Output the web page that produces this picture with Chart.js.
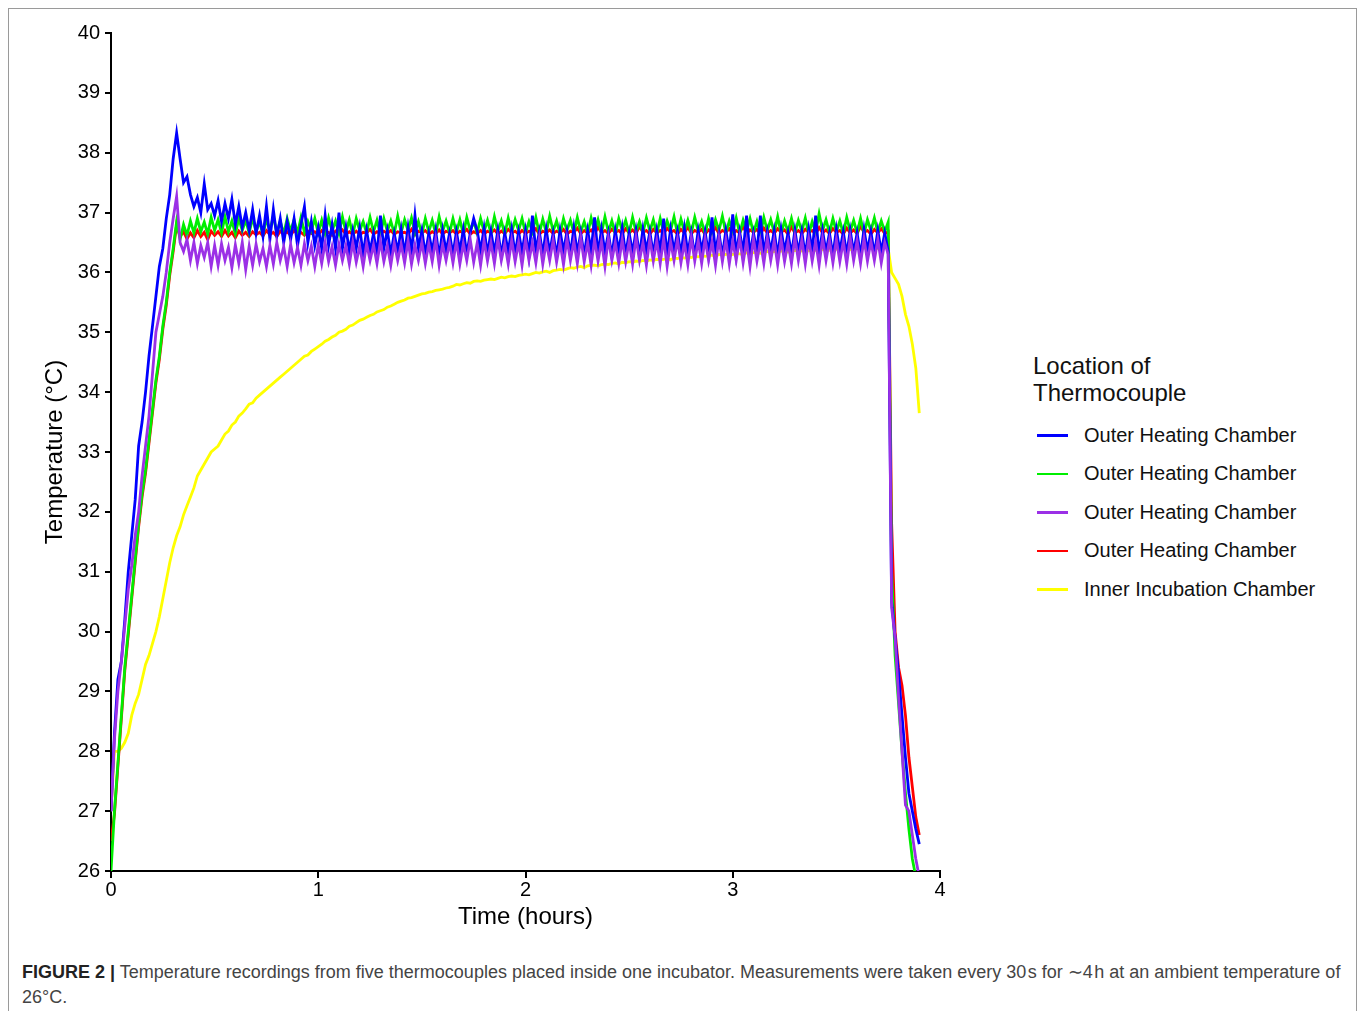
<!DOCTYPE html>
<html>
<head>
<meta charset="utf-8">
<script src="https://cdn.jsdelivr.net/npm/chart.js@4.4.1/dist/chart.umd.min.js"></script>
<style>
  html, body { margin: 0; padding: 0; background: #fff; }
  body { width: 1358px; height: 1011px; position: relative; overflow: hidden; font-family: "Liberation Sans", Arial, sans-serif; }
  .frame { position: absolute; left: 8px; top: 8px; width: 1347px; height: 1100px; border: 1px solid #9a9a9a; }
  #chartWrap { position: absolute; left: 0; top: 0; width: 980px; height: 940px; }
  .legend { position: absolute; left: 1033px; top: 352px; color: #111; }
  .legend-title { font-size: 24px; line-height: 27px; margin-bottom: 10px; }
  .legend-item { height: 38.5px; display: flex; align-items: center; font-size: 20px; }
  .legend-item span.swatch { display: inline-block; width: 31px; height: 2.5px; margin: 0 16px 0 4px; }
  .caption { position: absolute; left: 22px; top: 960px; font-size: 18px; line-height: 25px; color: #444; white-space: nowrap; }
  .caption b { color: #222; }
</style>
</head>
<body>
<div class="frame"></div>
<div id="chartWrap"><canvas id="tempChart" width="980" height="940"></canvas></div>
<div class="legend" id="legend"></div>
<div class="caption"><b>FIGURE 2 |</b> Temperature recordings from five thermocouples placed inside one incubator. Measurements were taken every 30&#8202;s for ∼4&#8202;h at an ambient temperature of<br>26°C.</div>
<script>
// one plotted reading per minute (°C)
const minutesPerSample = 1;

const blueTemps = [
    27.0, 28.3, 29.2, 29.5, 30.2, 31.0, 31.6, 32.2, 33.1, 33.5,
    34.0, 34.6, 35.1, 35.6, 36.1, 36.4, 36.9, 37.3, 37.9, 38.33,
    37.9, 37.5, 37.6, 37.3, 37.1, 37.25, 37.0, 37.48, 37.05, 37.15,
    36.95, 37.2, 36.85, 37.15, 36.9, 37.22, 36.8, 37.1, 36.75, 37.0,
    36.7, 37.05, 36.65, 36.95, 36.6, 37.1, 36.55, 37.05, 36.6, 36.9,
    36.5, 36.85, 36.55, 36.9, 36.45, 36.8, 37.1, 36.5, 36.85, 36.45,
    36.75, 36.4, 36.95, 36.45, 36.8, 36.4, 37.0, 36.4, 36.75, 36.35,
    36.7, 36.4, 36.75, 36.3, 36.7, 36.35, 36.65, 36.3, 36.95, 36.4,
    36.7, 36.3, 36.65, 36.35, 36.72, 36.3, 36.75, 36.35, 36.95, 36.4,
    36.7, 36.3, 36.65, 36.35, 36.7, 36.25, 36.7, 36.35, 36.65, 36.3,
    36.68, 36.35, 36.72, 36.3, 36.66, 36.9, 36.7, 36.36, 36.74, 36.3,
    36.68, 36.33, 36.7, 36.27, 36.66, 36.35, 36.72, 36.3, 36.68, 36.34,
    36.7, 36.28, 36.95, 36.35, 36.68, 36.3, 36.72, 36.33, 36.66, 36.27,
    36.7, 36.35, 36.68, 36.3, 36.74, 36.32, 36.66, 36.28, 36.7, 36.36,
    36.92, 36.3, 36.72, 36.34, 36.66, 36.27, 36.7, 36.35, 36.74, 36.3,
    36.66, 36.33, 36.7, 36.28, 36.72, 36.36, 36.68, 36.3, 36.7, 36.34,
    36.9, 36.28, 36.72, 36.35, 36.68, 36.3, 36.74, 36.32, 36.66, 36.28,
    36.7, 36.36, 36.68, 36.3, 36.92, 36.34, 36.66, 36.27, 36.7, 36.35,
    36.97, 36.3, 36.68, 36.33, 36.95, 36.28, 36.66, 36.35, 36.95, 36.3,
    36.68, 36.34, 36.7, 36.27, 36.72, 36.35, 36.66, 36.3, 36.7, 36.33,
    36.68, 36.28, 36.72, 36.36, 36.95, 36.3, 36.7, 36.34, 36.66, 36.28,
    36.72, 36.35, 36.68, 36.3, 36.7, 36.33, 36.66, 36.28, 36.72, 36.36,
    36.68, 36.3, 36.7, 36.34, 36.66, 36.35,
    30.5, 29.9, 29.3, 28.6, 27.9, 27.3, 27.0, 26.7, 26.45
];

const greenTemps = [
    26.0, 27.0, 27.8, 28.6, 29.4, 30.0, 30.6, 31.2, 31.8, 32.3,
    32.7, 33.2, 33.7, 34.2, 34.6, 35.1, 35.5, 36.0, 36.4, 36.85,
    36.55, 36.8, 36.62, 36.86, 36.66, 36.9, 36.68, 36.84, 36.64, 36.92,
    36.7, 36.88, 36.66, 36.93, 36.68, 36.86, 36.64, 36.9, 36.7, 36.87,
    36.66, 36.91, 36.68, 36.85, 36.63, 36.89, 36.7, 36.94, 36.66, 36.86,
    36.64, 36.9, 36.69, 36.88, 36.65, 36.92, 36.67, 36.85, 36.7, 36.9,
    36.66, 36.87, 36.64, 36.91, 36.69, 36.86, 36.65, 36.93, 36.68, 36.88,
    36.63, 36.9, 36.7, 36.85, 36.66, 36.92, 36.68, 36.87, 36.64, 36.9,
    36.69, 36.86, 36.65, 36.94, 36.67, 36.88, 36.7, 36.91, 36.66, 36.85,
    36.64, 36.9, 36.68, 36.87, 36.65, 36.93, 36.69, 36.86, 36.66, 36.9,
    36.67, 36.88, 36.64, 36.92, 36.7, 36.85, 36.66, 36.9, 36.68, 36.87,
    36.65, 36.93, 36.69, 36.86, 36.64, 36.91, 36.67, 36.88, 36.7, 36.9,
    36.66, 36.85, 36.68, 36.92, 36.65, 36.89, 36.67, 36.94, 36.69, 36.86,
    36.64, 36.9, 36.7, 36.87, 36.66, 36.92, 36.68, 36.85, 36.65, 36.91,
    36.69, 36.88, 36.66, 36.93, 36.67, 36.86, 36.64, 36.9, 36.7, 36.87,
    36.65, 36.92, 36.68, 36.85, 36.66, 36.91, 36.69, 36.88, 36.64, 36.9,
    36.67, 36.86, 36.7, 36.93, 36.65, 36.89, 36.68, 36.87, 36.66, 36.92,
    36.69, 36.85, 36.64, 36.9, 36.67, 36.88, 36.7, 36.94, 36.66, 36.86,
    36.68, 36.91, 36.65, 36.87, 36.69, 36.9, 36.66, 36.85, 36.64, 36.92,
    36.7, 36.88, 36.67, 36.93, 36.65, 36.86, 36.68, 36.9, 36.66, 36.87,
    36.69, 36.91, 36.64, 36.85, 36.67, 36.98, 36.7, 36.88, 36.66, 36.9,
    36.68, 36.86, 36.65, 36.92, 36.69, 36.87, 36.66, 36.9, 36.64, 36.88,
    36.7, 36.91, 36.67, 36.86, 36.68, 36.84,
    31.0, 29.6, 28.8, 28.0, 27.3, 26.7, 26.2, 25.9
];

const purpleTemps = [
    27.0, 28.2, 29.0, 29.5, 30.1, 30.7, 31.1, 31.6, 32.0, 32.6,
    33.1, 33.6, 34.3, 35.0, 35.3, 35.6, 36.0, 36.5, 36.9, 37.27,
    36.5, 36.35, 36.55, 36.2, 36.5, 36.15, 36.45, 36.25, 36.5, 36.1,
    36.45, 36.12, 36.48, 36.2, 36.42, 36.08, 36.46, 36.15, 36.5, 36.05,
    36.44, 36.12, 36.47, 36.18, 36.4, 36.1, 36.45, 36.14, 36.5, 36.2,
    36.43, 36.1, 36.47, 36.16, 36.42, 36.12, 36.48, 36.2, 36.44, 36.1,
    36.46, 36.15, 36.5, 36.18, 36.43, 36.12, 36.47, 36.2, 36.45, 36.14,
    36.5, 36.17, 36.44, 36.1, 36.48, 36.2, 36.46, 36.15, 36.52, 36.18,
    36.45, 36.12, 36.49, 36.2, 36.47, 36.16, 36.53, 36.14, 36.46, 36.2,
    36.5, 36.15, 36.48, 36.18, 36.55, 36.12, 36.47, 36.2, 36.5, 36.16,
    36.52, 36.14, 36.48, 36.2, 36.55, 36.17, 36.49, 36.12, 36.53, 36.19,
    36.5, 36.15, 36.56, 36.2, 36.48, 36.14, 36.54, 36.18, 36.5, 36.12,
    36.55, 36.2, 36.49, 36.16, 36.57, 36.14, 36.5, 36.2, 36.54, 36.17,
    36.5, 36.13, 36.56, 36.2, 36.52, 36.15, 36.58, 36.18, 36.5, 36.12,
    36.55, 36.19, 36.52, 36.1, 36.57, 36.2, 36.5, 36.15, 36.55, 36.18,
    36.52, 36.14, 36.58, 36.2, 36.5, 36.12, 36.56, 36.19, 36.53, 36.15,
    36.57, 36.1, 36.52, 36.2, 36.55, 36.16, 36.5, 36.13, 36.58, 36.19,
    36.53, 36.15, 36.56, 36.2, 36.51, 36.12, 36.57, 36.18, 36.54, 36.14,
    36.52, 36.2, 36.58, 36.16, 36.53, 36.1, 36.56, 36.19, 36.52, 36.15,
    36.57, 36.2, 36.53, 36.13, 36.55, 36.18, 36.5, 36.15, 36.58, 36.2,
    36.54, 36.14, 36.56, 36.19, 36.52, 36.12, 36.57, 36.2, 36.54, 36.16,
    36.55, 36.18, 36.52, 36.14, 36.58, 36.2, 36.53, 36.15, 36.56, 36.19,
    36.52, 36.2, 36.55, 36.16, 36.5, 36.3,
    30.4, 29.9, 28.9, 28.0, 27.1, 27.0, 26.6, 26.2, 25.9
];

const redTemps = [
    26.5, 26.95, 27.75, 28.55, 29.35, 29.95, 30.55, 31.15, 31.75, 32.25,
    32.65, 33.15, 33.65, 34.15, 34.55, 35.05, 35.45, 35.95, 36.35, 36.8,
    36.6, 36.68, 36.56, 36.66, 36.58, 36.7, 36.6, 36.67, 36.55, 36.69,
    36.62, 36.68, 36.6, 36.7, 36.61, 36.67, 36.58, 36.69, 36.62, 36.67,
    36.6, 36.68, 36.63, 36.67, 36.61, 36.7, 36.63, 36.67, 36.6, 36.69,
    36.64, 36.68, 36.62, 36.7, 36.64, 36.67, 36.62, 36.69, 36.65, 36.68,
    36.63, 36.7, 36.64, 36.67, 36.62, 36.69, 36.65, 36.71, 36.64, 36.68,
    36.64, 36.69, 36.63, 36.67, 36.66, 36.72, 36.64, 36.68, 36.65, 36.69,
    36.65, 36.7, 36.64, 36.68, 36.66, 36.67, 36.64, 36.72, 36.63, 36.69,
    36.66, 36.7, 36.64, 36.68, 36.65, 36.71, 36.64, 36.69, 36.66, 36.7,
    36.64, 36.69, 36.66, 36.72, 36.64, 36.68, 36.65, 36.7, 36.64, 36.69,
    36.66, 36.71, 36.64, 36.69, 36.65, 36.72, 36.66, 36.69, 36.64, 36.7,
    36.65, 36.69, 36.66, 36.73, 36.64, 36.69, 36.66, 36.71, 36.65, 36.69,
    36.66, 36.72, 36.64, 36.69, 36.67, 36.74, 36.65, 36.7, 36.66, 36.71,
    36.64, 36.76, 36.66, 36.7, 36.65, 36.72, 36.67, 36.7, 36.64, 36.73,
    36.66, 36.71, 36.65, 36.77, 36.67, 36.7, 36.64, 36.72, 36.66, 36.7,
    36.65, 36.74, 36.67, 36.7, 36.64, 36.72, 36.66, 36.76, 36.65, 36.7,
    36.67, 36.72, 36.64, 36.71, 36.66, 36.75, 36.65, 36.7, 36.67, 36.73,
    36.64, 36.7, 36.66, 36.77, 36.65, 36.71, 36.67, 36.72, 36.64, 36.74,
    36.66, 36.7, 36.65, 36.73, 36.67, 36.71, 36.64, 36.76, 36.66, 36.7,
    36.65, 36.72, 36.67, 36.7, 36.64, 36.75, 36.66, 36.71, 36.65, 36.73,
    36.67, 36.7, 36.64, 36.74, 36.66, 36.71, 36.65, 36.77, 36.67, 36.7,
    36.64, 36.72, 36.66, 36.73, 36.65, 36.68,
    31.8, 30.0, 29.4, 29.1, 28.6, 27.9, 27.4, 26.9, 26.6
];

const yellowTemps = [
    27.0, 28.0, 28.0, 28.05, 28.15, 28.3, 28.6, 28.8, 28.95, 29.2,
    29.45, 29.6, 29.8, 30.0, 30.25, 30.55, 30.85, 31.15, 31.4, 31.6,
    31.75, 31.95, 32.1, 32.25, 32.4, 32.6, 32.7, 32.8, 32.9, 33.0,
    33.05, 33.1, 33.2, 33.3, 33.35, 33.45, 33.5, 33.6, 33.65, 33.72,
    33.8, 33.82, 33.9, 33.95, 34.0, 34.05, 34.1, 34.15, 34.2, 34.25,
    34.3, 34.35, 34.4, 34.45, 34.5, 34.55, 34.6, 34.62, 34.68, 34.72,
    34.76, 34.8, 34.85, 34.88, 34.92, 34.95, 35.0, 35.02, 35.05, 35.1,
    35.12, 35.16, 35.2, 35.22, 35.25, 35.28, 35.3, 35.34, 35.36, 35.38,
    35.42, 35.44, 35.47, 35.5, 35.52, 35.54, 35.57, 35.58, 35.6, 35.62,
    35.64, 35.65, 35.67, 35.68, 35.7, 35.71, 35.72, 35.74, 35.75, 35.77,
    35.8, 35.79, 35.81, 35.83, 35.82, 35.85, 35.86, 35.85, 35.87, 35.88,
    35.89, 35.88, 35.9, 35.92, 35.91, 35.93, 35.94, 35.93, 35.95, 35.96,
    35.97, 35.96, 35.98, 36.0, 35.99, 36.01, 36.02, 36.0, 36.03, 36.04,
    36.05, 36.04, 36.06, 36.08, 36.07, 36.09, 36.1, 36.08, 36.11, 36.12,
    36.12, 36.11, 36.13, 36.14, 36.13, 36.15, 36.16, 36.14, 36.17, 36.16,
    36.18, 36.17, 36.19, 36.18, 36.2, 36.19, 36.21, 36.2, 36.22, 36.21,
    36.22, 36.23, 36.21, 36.24, 36.23, 36.25, 36.24, 36.26, 36.25, 36.27,
    36.26, 36.28, 36.27, 36.28, 36.29, 36.27, 36.3, 36.29, 36.3, 36.31,
    36.3, 36.32, 36.31, 36.3, 36.33, 36.32, 36.33, 36.34, 36.32, 36.34,
    36.35, 36.33, 36.35, 36.34, 36.36, 36.35, 36.34, 36.36, 36.37, 36.35,
    36.36, 36.37, 36.36, 36.38, 36.37, 36.36, 36.38, 36.39, 36.37, 36.38,
    36.39, 36.38, 36.4, 36.39, 36.38, 36.4, 36.41, 36.39, 36.4, 36.41,
    36.4, 36.42, 36.4, 36.41, 36.42, 36.4,
    36.0, 35.9, 35.8, 35.6, 35.3, 35.1, 34.8, 34.4, 33.65
];

const seriesNames = [
    'Outer Heating Chamber',
    'Outer Heating Chamber',
    'Outer Heating Chamber',
    'Outer Heating Chamber',
    'Inner Incubation Chamber',
];
const seriesColors = ['#0000ff', '#00ee00', '#9b30e6', '#ff0000', '#ffff00'];
const seriesTemps = [blueTemps, greenTemps, purpleTemps, redTemps, yellowTemps];
// chart.js paints the first dataset on top: purple, blue, green, red, yellow at the back
const drawOrder = [2, 0, 1, 3, 4];

const toPoints = (temps) => temps.map((t, i) => ({ x: (i * minutesPerSample) / 60, y: t }));

const datasets = drawOrder.map((idx) => ({
    label: seriesNames[idx],
    data: toPoints(seriesTemps[idx]),
    borderColor: seriesColors[idx],
    backgroundColor: seriesColors[idx],
    borderWidth: 2.8,
    pointRadius: 0,
    tension: 0,
    fill: false,
}));

// legend on the right, html
const legendEl = document.getElementById('legend');
legendEl.innerHTML = '<div class="legend-title">Location of<br>Thermocouple</div>';
seriesNames.forEach((name, i) => {
    const row = document.createElement('div');
    row.className = 'legend-item';
    row.innerHTML = `<span class="swatch" style="background:${seriesColors[i]}"></span>${name}`;
    legendEl.appendChild(row);
});

const axisFont = { family: '"Liberation Sans", Arial, sans-serif', size: 20 };
const titleFont = { family: '"Liberation Sans", Arial, sans-serif', size: 24, lineHeight: 1.2 };

new Chart(document.getElementById('tempChart').getContext('2d'), {
    type: 'line',
    data: { datasets },
    options: {
        responsive: false,
        animation: false,
        devicePixelRatio: 1,
        layout: { padding: { left: 0, top: 33, right: 40, bottom: 0 } },
        plugins: {
            legend: { display: false },
            tooltip: { enabled: false },
        },
        scales: {
            x: {
                type: 'linear',
                min: 0,
                max: 4,
                ticks: { stepSize: 1, color: '#000', font: axisFont, padding: 0 },
                grid: { drawOnChartArea: false, color: '#000', lineWidth: 2, tickLength: 7 },
                border: { color: '#000', width: 2 },
                title: { display: true, text: 'Time (hours)', color: '#000', font: titleFont, padding: { top: 0, bottom: 8 } },
                afterFit: (scale) => { scale.height = 69; },
            },
            y: {
                type: 'linear',
                min: 26,
                max: 40,
                ticks: { stepSize: 1, color: '#000', font: axisFont, padding: 5 },
                grid: { drawOnChartArea: false, color: '#000', lineWidth: 2, tickLength: 6 },
                border: { color: '#000', width: 2 },
                title: { display: true, text: 'Temperature (°C)', color: '#000', font: titleFont, padding: { top: 41, bottom: 0 } },
                afterFit: (scale) => { scale.width = 111; },
            },
        },
    },
});
</script>
</body>
</html>
